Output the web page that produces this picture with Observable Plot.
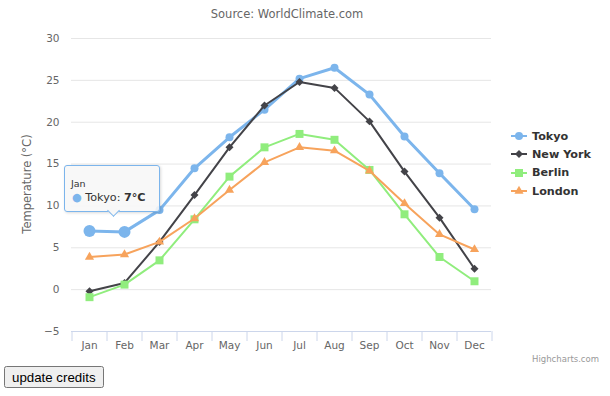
<!DOCTYPE html>
<html>
<head>
<meta charset="utf-8">
<script src="https://cdn.jsdelivr.net/npm/d3@7"></script>
<script src="https://cdn.jsdelivr.net/npm/@observablehq/plot@0.6"></script>
<style>
  body { margin: 0; background: #fff; font-family: "DejaVu Sans", Verdana, sans-serif; }
  #wrap { position: relative; width: 610px; height: 365px; }
  #chart { position: absolute; left: 0; top: 0; }
  #subtitle { position: absolute; left: 0; width: 574px; top: 7px; text-align: center; font-size: 11.5px; color: #666; }
  #ytitle { position: absolute; left: 27px; top: 184px; transform: translate(-50%, -50%) rotate(-90deg); font-size: 11.5px; color: #666; white-space: nowrap; }
  #legend { position: absolute; left: 511px; top: 127px; }
  .li { height: 18.3px; display: flex; align-items: center; font-size: 11.2px; font-weight: bold; color: #333; white-space: nowrap; }
  .li svg { margin-right: 5px; }
  #credit { position: absolute; right: 11px; top: 354px; font-size: 8.5px; color: #999; }
  #tooltip { position: absolute; left: 64px; top: 165px; width: 94px; height: 45px; border: 1px solid #7cb5ec; border-radius: 3px; background: rgba(247,247,247,0.88); box-shadow: 1px 1px 3px rgba(0,0,0,0.15); }
  #tooltip .arrow { position: absolute; left: 44px; top: 40px; width: 8px; height: 8px; background: rgb(247,247,247); border-right: 1px solid #7cb5ec; border-bottom: 1px solid #7cb5ec; transform: rotate(45deg); }
  #tooltip .h { position: absolute; left: 6px; top: 12px; font-size: 9.5px; color: #333; }
  #tooltip .b { position: absolute; left: 7px; top: 25px; font-size: 11.2px; color: #333; white-space: nowrap; }
  #tooltip .b b { font-weight: bold; }
  button { position: absolute; left: 4px; top: 366px; font-family: "Liberation Sans", Arial, sans-serif; font-size: 13.3px; padding: 1px 6px; height: 22px; }
</style>
</head>
<body>
<div id="wrap">
  <div id="chart"></div>
  <div id="subtitle"></div>
  <div id="ytitle"></div>
  <div id="legend"></div>
  <div id="tooltip"></div>
  <div id="credit"></div>
</div>
<button>update credits</button>
<script>
const subtitle = "Source: WorldClimate.com";
const yTitle = "Temperature (°C)";
const credit = "Highcharts.com";
const months = ["Jan","Feb","Mar","Apr","May","Jun","Jul","Aug","Sep","Oct","Nov","Dec"];
const seriesNames = ["Tokyo","New York","Berlin","London"];
const tokyo   = [7.0, 6.9, 9.5, 14.5, 18.2, 21.5, 25.2, 26.5, 23.3, 18.3, 13.9, 9.6];
const newYork = [-0.2, 0.8, 5.7, 11.3, 17.0, 22.0, 24.8, 24.1, 20.1, 14.1, 8.6, 2.5];
const berlin  = [-0.9, 0.6, 3.5, 8.4, 13.5, 17.0, 18.6, 17.9, 14.3, 9.0, 3.9, 1.0];
const london  = [3.9, 4.2, 5.7, 8.5, 11.9, 15.2, 17.0, 16.6, 14.2, 10.3, 6.6, 4.8];
const yTicks = [-5, 0, 5, 10, 15, 20, 25, 30];
const colors = ["#7cb5ec", "#434348", "#90ed7d", "#f7a35c"];
const symbols = ["circle", "diamond2", "square", "triangle"];
const radii = [4, 3.6, 4.5, 3.4];
const lineWidths = [3, 2, 2, 2];
const hovered = {series: "Tokyo", months: ["Jan", "Feb"]};
const tooltipMonth = "Jan";
const tooltipSeries = "Tokyo";
const tooltipValue = "7°C";

const values = [tokyo, newYork, berlin, london];
const rows = seriesNames.flatMap((s, i) => months.map((m, j) => ({series: s, month: m, temp: values[i][j],
  hover: s === hovered.series && hovered.months.includes(m)})));

const font = `"DejaVu Sans", Verdana, sans-serif`;
const marks = [
  Plot.ruleY(yTicks, {stroke: "#e6e6e6"}),
  Plot.ruleY([yTicks[0]], {stroke: "#ccd6eb"}),
  Plot.axisY({ticks: yTicks, tickSize: 0, tickPadding: 12, fontSize: 10.5, color: "#666", label: null}),
  Plot.axisX({tickSize: 0, tickPadding: 10, fontSize: 10.5, color: "#666", label: null}),
  Plot.axisX({tickSize: 10, tickFormat: () => "", dx: -17.5, stroke: "#ccd6eb", label: null}),
  Plot.axisX({ticks: [months[months.length - 1]], tickSize: 10, tickFormat: () => "", dx: 17.5, stroke: "#ccd6eb", label: null})
];
seriesNames.forEach((s, i) => {
  const d = rows.filter(r => r.series === s);
  marks.push(Plot.line(d, {x: "month", y: "temp", stroke: colors[i], strokeWidth: lineWidths[i], curve: "linear"}));
  marks.push(Plot.dot(d, {x: "month", y: "temp", fill: colors[i], symbol: () => symbols[i],
    r: r => r.hover ? radii[i] + 2 : radii[i], stroke: "none"}));
});

const chart = Plot.plot({
  width: 610, height: 365,
  marginLeft: 71, marginRight: 119, marginTop: 38, marginBottom: 34,
  style: {fontFamily: font, background: "transparent", overflow: "visible"},
  x: {type: "point", domain: months, padding: 0.5},
  y: {domain: [-5, 30]},
  r: {type: "identity"},
  symbol: {type: "identity"},
  marks
});
document.getElementById("chart").appendChild(chart);

document.getElementById("subtitle").textContent = subtitle;
document.getElementById("ytitle").textContent = yTitle;
document.getElementById("credit").textContent = credit;

const symbolTypes = {circle: d3.symbolCircle, diamond2: d3.symbolDiamond2, square: d3.symbolSquare, triangle: d3.symbolTriangle};
const legend = document.getElementById("legend");
seriesNames.forEach((s, i) => {
  const div = document.createElement("div");
  div.className = "li";
  const sym = d3.symbol(symbolTypes[symbols[i]], Math.PI * radii[i] * radii[i])();
  div.innerHTML = `<svg width="16" height="12"><line x1="0" x2="16" y1="6" y2="6" stroke="${colors[i]}" stroke-width="2"/><path transform="translate(8,6)" d="${sym}" fill="${colors[i]}"/></svg>${s}`;
  legend.appendChild(div);
});

const tip = document.getElementById("tooltip");
const ci = seriesNames.indexOf(tooltipSeries);
tip.innerHTML = `<div class="arrow"></div><div class="h">${tooltipMonth}</div><div class="b"><span style="color:${colors[ci]}">●</span> ${tooltipSeries}: <b>${tooltipValue}</b></div>`;
</script>
</body>
</html>
